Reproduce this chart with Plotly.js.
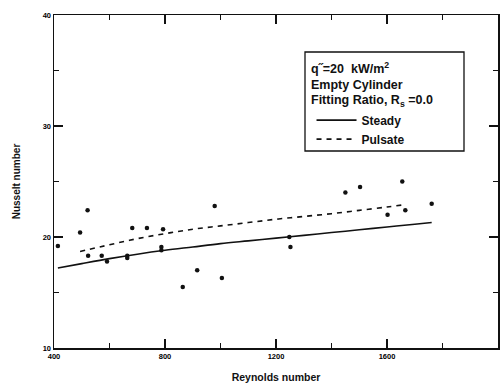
<!DOCTYPE html>
<html>
<head>
<meta charset="utf-8">
<script src="https://cdn.plot.ly/plotly-3.0.1.min.js"></script>
<style>html,body{margin:0;padding:0;background:#fff;}#chart{width:504px;height:385px;}</style>
</head>
<body>
<div id="chart"></div>
<script>
// Measured data points (Reynolds number, Nusselt number)
const pointsRe = [414, 494, 521, 523, 572, 591, 664, 664, 682, 735, 787, 787, 793, 864, 916, 979, 1005, 1248, 1252, 1450, 1503, 1602, 1655, 1666, 1761];
const pointsNu = [19.2, 20.4, 22.4, 18.3, 18.3, 17.8, 18.1, 18.3, 20.8, 20.8, 18.8, 19.1, 20.7, 15.5, 17.0, 22.8, 16.3, 20.0, 19.1, 24.0, 24.5, 22.0, 25.0, 22.4, 23.0];

// Steady fit curve
const steadyRe = [414, 500, 600, 700, 800, 900, 1000, 1100, 1200, 1300, 1400, 1500, 1600, 1700, 1761];
const steadyNu = [17.2, 17.6, 18.05, 18.45, 18.8, 19.1, 19.4, 19.65, 19.9, 20.15, 20.4, 20.65, 20.9, 21.15, 21.3];

// Pulsate fit curve
const pulsateRe = [494, 600, 700, 800, 900, 1000, 1100, 1200, 1300, 1400, 1500, 1600, 1660];
const pulsateNu = [18.7, 19.3, 19.85, 20.3, 20.7, 21.0, 21.3, 21.6, 21.85, 22.1, 22.4, 22.7, 22.9];

const xTicks = [400, 800, 1200, 1600, 2000];
const yTicks = [10, 20, 30, 40];

const boxLines = ["q\u02DD=20  kW/m<sup>2</sup>", "Empty Cylinder", "Fitting Ratio, R<sub>s</sub> =0.0"];
const seriesNames = ["Steady", "Pulsate"];

const FONT = "Liberation Sans, Arial, sans-serif";

const traces = [
  {x: pointsRe, y: pointsNu, mode: "markers", type: "scatter", showlegend: false,
   marker: {color: "#111", size: 4.5, symbol: "circle"}},
  {x: steadyRe, y: steadyNu, mode: "lines", type: "scatter", name: seriesNames[0],
   line: {color: "#111", width: 1.6, shape: "spline"}},
  {x: pulsateRe, y: pulsateNu, mode: "lines", type: "scatter", name: seriesNames[1],
   line: {color: "#111", width: 1.6, dash: "5px,5px", shape: "spline"}}
];

const axisCommon = {
  showline: true, linecolor: "#111", linewidth: 1.5, mirror: "ticks",
  ticks: "inside", ticklen: 9, tickwidth: 1.3, tickcolor: "#111",
  showgrid: false, zeroline: false,
  tickfont: {family: FONT, size: 7.5, color: "#000", weight: "bold"}
};

const layout = {
  width: 504, height: 385,
  margin: {l: 54, r: 6, t: 15, b: 37},
  paper_bgcolor: "#fff", plot_bgcolor: "#fff",
  font: {family: FONT, color: "#111"},
  xaxis: Object.assign({}, axisCommon, {
    range: [400, 2000], tickvals: xTicks, ticktext: xTicks.map(String),
    minor: {dtick: 200, tick0: 400, ticks: "inside", ticklen: 5, tickwidth: 1.2, tickcolor: "#111"},
    title: {text: "Reynolds number", font: {family: FONT, size: 10.5, weight: "bold", color: "#111"}, standoff: 14}
  }),
  yaxis: Object.assign({}, axisCommon, {
    range: [10, 40], tickvals: yTicks, ticktext: yTicks.map(String),
    minor: {dtick: 5, tick0: 10, ticks: "inside", ticklen: 5, tickwidth: 1.2, tickcolor: "#111"},
    title: {text: "Nusselt number", font: {family: FONT, size: 10, weight: "bold", color: "#111"}, standoff: 20}
  }),
  showlegend: true,
  legend: {
    x: 0.58, y: 0.728, xanchor: "left", yanchor: "top",
    bgcolor: "rgba(0,0,0,0)", borderwidth: 0,
    font: {family: FONT, size: 12, weight: "bold", color: "#111"},
    tracegroupgap: 0, itemwidth: 40
  },
  shapes: [
    {type: "rect", xref: "paper", yref: "paper",
     x0: (305 - 54) / 444, x1: (464 - 54) / 444,
     y0: (348 - 151) / 333, y1: (348 - 52) / 333,
     line: {color: "#111", width: 1.3}, fillcolor: "rgba(0,0,0,0)"}
  ],
  annotations: boxLines.map((t, i) => ({
    text: t, xref: "paper", yref: "paper", showarrow: false,
    x: (309 - 54) / 444, xanchor: "left",
    y: (348 - (68 + i * 16.5)) / 333, yanchor: "middle",
    font: {family: FONT, size: 12.5, weight: "bold", color: "#111"}
  }))
};

Plotly.newPlot("chart", traces, layout, {staticPlot: true, displayModeBar: false});
</script>
</body>
</html>
